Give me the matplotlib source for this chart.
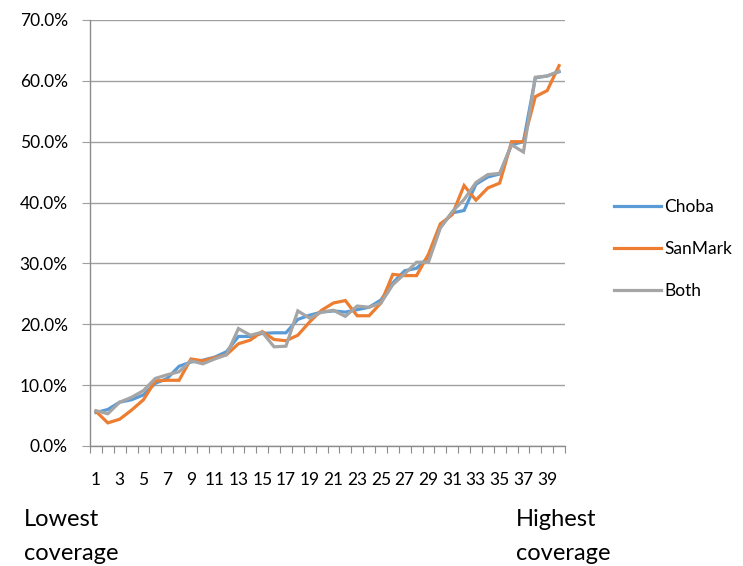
import matplotlib
matplotlib.use("Agg")
import matplotlib.pyplot as plt
from matplotlib.ticker import FuncFormatter, FixedLocator

categories = list(range(1, 41))
choba = [5.5, 6.0, 7.2, 7.6, 8.4, 10.3, 11.1, 13.1, 13.8, 14.1, 14.6, 15.5, 18.0, 18.0, 18.5, 18.6,
         18.6, 20.8, 21.5, 22.0, 22.2, 22.0, 22.4, 22.8, 24.0, 26.8, 28.8, 29.2, 31.0, 36.0,
         38.3, 38.7, 43.0, 44.2, 44.7, 49.5, 50.0, 60.5, 60.8, 61.5]
sanmark = [5.7, 3.8, 4.4, 5.9, 7.6, 10.7, 10.8, 10.8, 14.3, 14.0, 14.5, 15.0, 16.8, 17.4, 18.8, 17.5,
           17.3, 18.2, 20.4, 22.3, 23.5, 23.9, 21.4, 21.4, 23.5, 28.2, 28.0, 28.0, 31.5, 36.5,
           38.0, 42.8, 40.4, 42.4, 43.2, 50.0, 50.0, 57.4, 58.4, 62.5]
both = [5.8, 5.3, 7.2, 8.0, 9.1, 11.1, 11.7, 12.2, 14.0, 13.5, 14.3, 15.0, 19.3, 18.2, 18.7, 16.3,
        16.4, 22.2, 21.0, 22.0, 22.3, 21.3, 23.0, 22.8, 23.5, 26.5, 28.3, 30.2, 30.2, 35.8,
        38.5, 40.5, 43.3, 44.6, 44.8, 49.5, 48.3, 60.6, 60.8, 61.6]
series_names = ["Choba", "SanMark", "Both"]
colors = ["#5B9BD5", "#ED7D31", "#A5A5A5"]
yticks = [0, 10, 20, 30, 40, 50, 60, 70]

plt.rcParams['font.family'] = ['Lato', 'DejaVu Sans']

fig = plt.figure(figsize=(7.43, 5.66), dpi=100)
ax = fig.add_axes([90/743, 1-446/566, 475/743, 426/566])

for vals, name, c in zip([choba, sanmark, both], series_names, colors):
    ax.plot(categories, vals, color=c, lw=2.3, label=name, solid_joinstyle='miter')

ax.set_xlim(0.5, 40.5)
ax.set_ylim(0, 70)
ax.set_yticks(yticks)
ax.yaxis.set_major_formatter(FuncFormatter(lambda v, p: f"{v:.1f}%"))
ax.grid(axis='y', color='#A0A0A0', lw=1.0)
ax.set_axisbelow(True)

ax.xaxis.set_major_locator(FixedLocator([c - 0.5 for c in categories] + [40.5]))
ax.xaxis.set_major_formatter(FuncFormatter(lambda v, p: ""))
ax.set_xticks([c for c in categories if c % 2 == 1], minor=True)
ax.set_xticklabels([str(c) for c in categories if c % 2 == 1], minor=True)
ax.tick_params(axis='x', which='minor', length=0, pad=19, labelsize=12.5)
ax.tick_params(axis='x', which='major', length=5, color='#8C8C8C', direction='out')
ax.tick_params(axis='y', length=6, color='#A0A0A0', labelsize=12.5, pad=10)

for s in ['top', 'right']:
    ax.spines[s].set_visible(False)
for s in ['left', 'bottom']:
    ax.spines[s].set_color('#8C8C8C')
    ax.spines[s].set_linewidth(1.0)

leg = fig.legend(loc='center left', bbox_to_anchor=(598/743, 1-249/566), frameon=False,
                 fontsize=12.5, handlelength=2.7, handletextpad=0.2, labelspacing=1.5)

fig.text(24/743, 1-520/566, "Lowest", fontsize=17, va='center', ha='left')
fig.text(24/743, 1-553/566, "coverage", fontsize=17, va='center', ha='left')
fig.text(516/743, 1-520/566, "Highest", fontsize=17, va='center', ha='left')
fig.text(516/743, 1-553/566, "coverage", fontsize=17, va='center', ha='left')

fig.savefig("out.png", dpi=100)
